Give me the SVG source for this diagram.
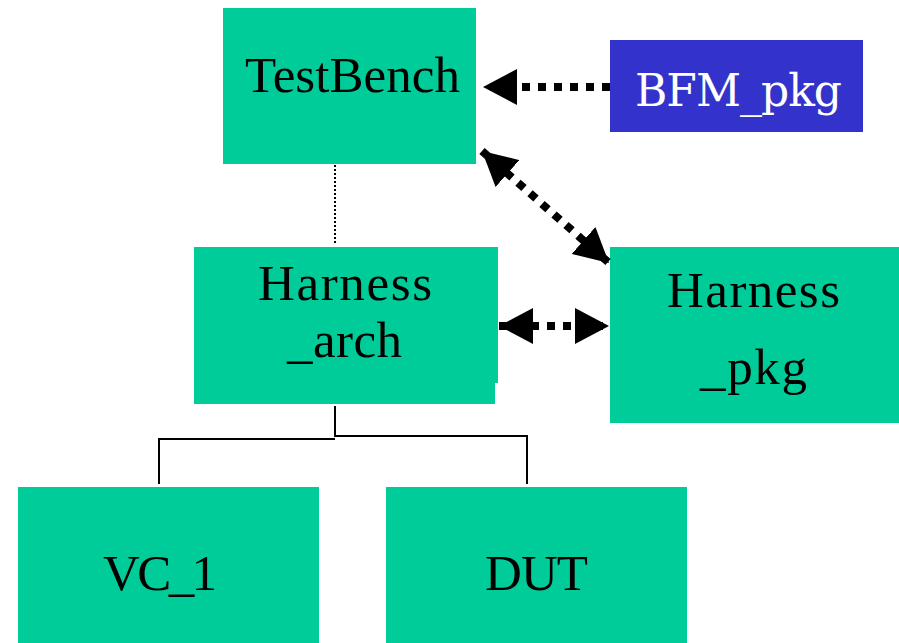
<svg xmlns="http://www.w3.org/2000/svg" width="899" height="643" viewBox="0 0 899 643">
<style>
.box{fill:#00CC99}
.blue{fill:#3333CC}
.t{font-family:"Liberation Serif","Times New Roman",serif;font-size:51px;text-anchor:middle;fill:#000}
.w{fill:#fff;font-family:"DejaVu Serif","Liberation Serif",serif;font-size:44px}
.dot{stroke:#000;stroke-width:8;stroke-dasharray:8 8;fill:none}
.thin{stroke:#000;stroke-width:2;fill:none}
</style>
<defs>
<marker id="ah" viewBox="0 0 34 36" refX="34" refY="18" markerWidth="34" markerHeight="36" markerUnits="userSpaceOnUse" orient="auto-start-reverse">
<path d="M0,0 L34,18 L0,36 z" fill="#000"/>
</marker>
</defs>
<rect width="899" height="643" fill="#fff"/>
<g id="TestBench"><rect class="box" x="223" y="8" width="253" height="156"/><text class="t" x="352.5" y="92" textLength="215" lengthAdjust="spacing">TestBench</text></g>
<g id="BFM_pkg"><rect class="blue" x="610" y="40" width="253" height="92"/><text class="t w" x="738.5" y="106" textLength="207" lengthAdjust="spacing">BFM_pkg</text></g>
<g id="Harness_arch"><path class="box" d="M194,247 H498 V383 H495 V404 H194 Z"/><text class="t" x="345" y="300" textLength="174" lengthAdjust="spacing">Harness</text><text class="t" x="344.5" y="357" textLength="115" lengthAdjust="spacing">_arch</text></g>
<g id="Harness_pkg"><rect class="box" x="610" y="247" width="289" height="176"/><text class="t" x="753.5" y="307" textLength="173" lengthAdjust="spacing">Harness</text><text class="t" x="753.5" y="384" textLength="107" lengthAdjust="spacing">_pkg</text></g>
<g id="VC_1"><rect class="box" x="18" y="487" width="301" height="156"/><text class="t" x="160" y="590" textLength="114" lengthAdjust="spacing">VC_1</text></g>
<g id="DUT"><rect class="box" x="386" y="487" width="301" height="156"/><text class="t" x="536.5" y="590" textLength="103" lengthAdjust="spacing">DUT</text></g>
<g id="connectors">
<line x1="335" y1="165" x2="335" y2="245" stroke="#000" stroke-width="2" stroke-dasharray="2 2"/>
<path class="thin" d="M335,406 V437 M159,484 V439 H335 M527,484 V436 H335"/>
<line class="dot" x1="610" y1="87" x2="483" y2="87" marker-end="url(#ah)"/>
<line class="dot" x1="482" y1="151" x2="609" y2="263" marker-start="url(#ah)" marker-end="url(#ah)"/>
<line class="dot" x1="499" y1="326" x2="609" y2="326" marker-start="url(#ah)" marker-end="url(#ah)"/>
</g>
</svg>
